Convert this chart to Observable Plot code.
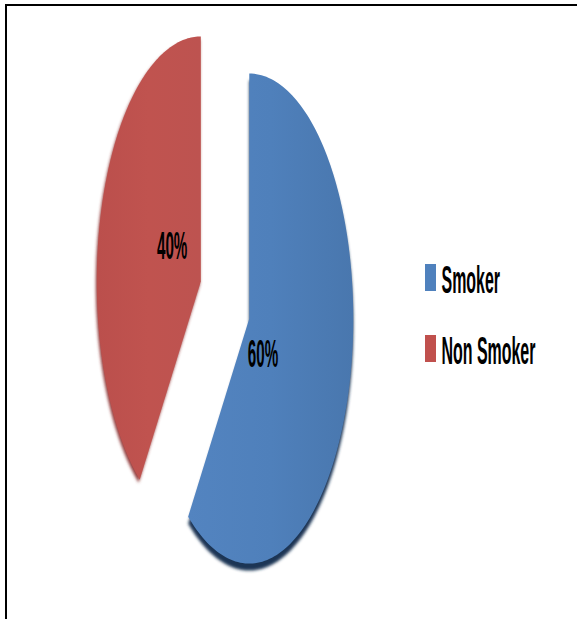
<!DOCTYPE html>
<html><head><meta charset="utf-8">
<script src="https://cdn.jsdelivr.net/npm/d3@7"></script>
<script src="https://cdn.jsdelivr.net/npm/@observablehq/plot@0.6"></script>
<style>
body{margin:0;background:#fff;}
#wrap{position:relative;width:577px;height:619px;overflow:hidden;background:#fff;}
#chart{position:absolute;left:0;top:0;}
#legend{position:absolute;left:0;top:0;}
#frame{position:absolute;left:5px;top:4px;right:-10px;bottom:-10px;border-top:2px solid #000;border-left:2px solid #000;pointer-events:none;}
</style></head><body>
<div id="wrap"><div id="chart"></div><svg id="legend" width="577" height="619"></svg><div id="frame"></div></div>
<script>
// ---- data ----
const categories = ["Smoker", "Non Smoker"];
const values = [60, 40];
const labels = ["60%", "40%"];
const colors = ["#4f81bd", "#c0504d"];

// ---- geometry derived from the data through d3.pie ----
const explode = 0.245;
const N = 160;
const pie = d3.pie().sort(null).value(d => d)(values);
const slices = pie.map((p, i) => {
  const mid = (p.startAngle + p.endAngle) / 2;
  const ox = explode * Math.sin(mid), oy = explode * Math.cos(mid);
  const pts = [{x: ox, y: oy}];
  for (let k = 0; k <= N; k++) {
    const a = p.startAngle + (p.endAngle - p.startAngle) * k / N;
    pts.push({x: ox + Math.sin(a), y: oy + Math.cos(a)});
  }
  pts.push({x: ox, y: oy});
  return {cat: categories[i], pts,
    label: [{x: ox + 0.3 * Math.sin(mid), y: oy + 0.3 * Math.cos(mid), text: labels[i]}]};
});

const textStyle = {fontSize: 38, fontWeight: "bold", fontFamily: "Liberation Sans, Arial, sans-serif", fill: "#000"};

const chart = Plot.plot({
  width: 577, height: 619, margin: 0,
  x: {domain: [-2.159, 3.389], axis: null},
  y: {domain: [-1.304, 1.2224], axis: null},
  marks: [
    Plot.line(slices[0].pts, {x: "x", y: "y", fill: "#1c3655", stroke: "none", dy: 7}),
    Plot.line(slices[1].pts, {x: "x", y: "y", fill: "#933e3c", stroke: "none", dx: -1, dy: 3}),
    Plot.line(slices[0].pts, {x: "x", y: "y", fill: "url(#gBlue)", stroke: "none"}),
    Plot.line(slices[1].pts, {x: "x", y: "y", fill: "url(#gRed)", stroke: "none"}),
    Plot.text(slices[0].label, {x: "x", y: "y", text: "text", dx: -16, dy: 14, ...textStyle}),
    Plot.text(slices[1].label, {x: "x", y: "y", text: "text", dx: 1, dy: -12, ...textStyle})
  ]
});
document.getElementById("chart").appendChild(chart);

// gradients + soft shadow
const svg = d3.select(chart);
const defs = svg.insert("defs", ":first-child");
function grad(id, stops) {
  const g = defs.append("linearGradient").attr("id", id).attr("x1", 0).attr("x2", 1).attr("y1", 0).attr("y2", 0);
  stops.forEach(([o, c]) => g.append("stop").attr("offset", o).attr("stop-color", c));
}
grad("gBlue", [[0, "#5384c0"], [0.5, "#4f80bb"], [1, "#4977ae"]]);
grad("gRed", [[0, "#bb4f4c"], [0.5, "#c0534f"], [1, "#bd5350"]]);
defs.append("filter").attr("id", "blur").attr("x", "-10%").attr("y", "-10%").attr("width", "120%").attr("height", "120%")
  .append("feGaussianBlur").attr("stdDeviation", 1.6);
svg.selectAll('g[fill="#1c3655"], g[fill="#933e3c"]').attr("filter", "url(#blur)");

// condensed text: squeeze horizontally around the anchor
function squeeze(el, sx) {
  const t = el.getAttribute("transform") || "";
  const x = +el.getAttribute("x") || 0, y = +el.getAttribute("y") || 0;
  el.setAttribute("transform", `${t} translate(${x},${y}) scale(${sx},1) translate(${-x},${-y})`);
}
svg.selectAll("text").each(function() { squeeze(this, 0.40); });

// legend
const SX = 0.42;
const leg = d3.select("#legend");
categories.forEach((c, i) => {
  const top = 264 + i * 71;
  leg.append("rect").attr("x", 425).attr("y", top).attr("width", 11).attr("height", 27).attr("fill", colors[i]);
  leg.append("text").attr("x", 441.5).attr("y", top + 29)
    .attr("font-family", "Liberation Sans, Arial, sans-serif").attr("font-weight", "bold").attr("font-size", 38)
    .attr("fill", "#000").text(c)
    .attr("transform", `translate(441.5,${top + 29}) scale(${SX},1) translate(-441.5,${-(top + 29)})`);
});
</script>
</body></html>
